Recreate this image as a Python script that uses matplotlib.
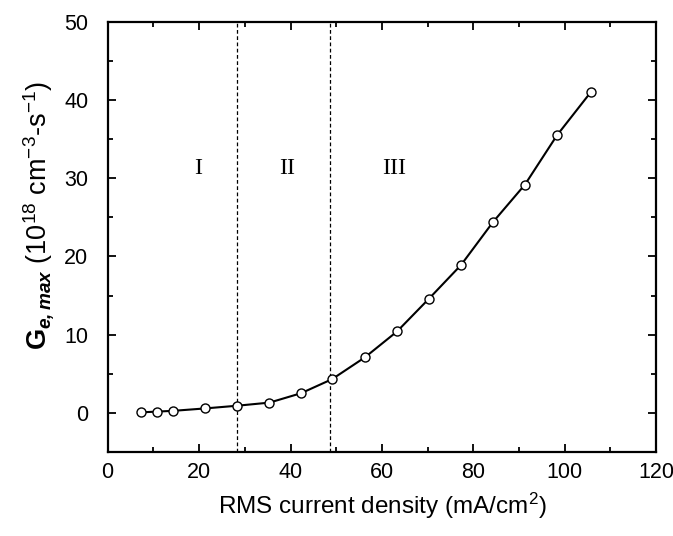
import matplotlib
matplotlib.use("Agg")
import matplotlib.pyplot as plt
from matplotlib.ticker import MultipleLocator

# Data
current_density = [7.2, 10.8, 14.4, 21.2, 28.3, 35.4, 42.3, 49.1, 56.3, 63.3,
                   70.3, 77.3, 84.3, 91.3, 98.3, 105.8]
g_emax = [0.05, 0.15, 0.25, 0.55, 0.9, 1.3, 2.5, 4.3, 7.1, 10.4,
          14.6, 18.9, 24.4, 29.2, 35.5, 41.1]
boundaries = [28.3, 48.6]
region_labels = ["I", "II", "III"]
region_x = [19.7, 39.2, 62.7]
region_y = 31.3

plt.rcParams['font.family'] = ['Liberation Sans', 'DejaVu Sans']
plt.rcParams['mathtext.fontset'] = 'custom'
plt.rcParams['mathtext.rm'] = 'Liberation Sans'
plt.rcParams['mathtext.it'] = 'Liberation Sans:italic'
plt.rcParams['mathtext.bf'] = 'Liberation Sans:bold'
plt.rcParams['mathtext.bfit'] = 'Liberation Sans:bold:italic'

fig = plt.figure(figsize=(6.73, 5.36), dpi=100)
ax = fig.add_axes([0.160, 0.157, 0.815, 0.802])

ax.plot(current_density, g_emax, '-', color='black', lw=1.5, marker='o',
        markersize=6.5, markerfacecolor='white', markeredgecolor='black',
        markeredgewidth=1.0, zorder=3)

for b in boundaries:
    ax.axvline(b, color='black', lw=0.9, ls=(0, (3, 2)), zorder=2)

for lab, x in zip(region_labels, region_x):
    ax.text(x, region_y, lab, ha='center', va='center', fontsize=17.5,
            family='Liberation Serif')

ax.set_xlim(0, 120)
ax.set_ylim(-5, 50)
ax.xaxis.set_major_locator(MultipleLocator(20))
ax.xaxis.set_minor_locator(MultipleLocator(10))
ax.yaxis.set_major_locator(MultipleLocator(10))
ax.yaxis.set_minor_locator(MultipleLocator(5))
ax.tick_params(which='both', direction='in', top=True, right=True,
               width=1.3, labelsize=15.5)
ax.tick_params(which='major', length=6)
ax.tick_params(which='minor', length=3.5)
ax.tick_params(axis='x', which='major', pad=7)
ax.tick_params(axis='y', which='major', pad=14)
for s in ax.spines.values():
    s.set_linewidth(1.6)

ax.set_xlabel(r'RMS current density (mA/cm$^{2}$)', fontsize=17.5, labelpad=6)
ax.set_ylabel(r'$\mathbf{G}_{\mathbfit{e,max}}$ (10$^{18}$ cm$^{-3}$-s$^{-1}$)',
              fontsize=19.5)
ax.yaxis.set_label_coords(-0.095, 0.55)

fig.savefig('out.png', dpi=100)
